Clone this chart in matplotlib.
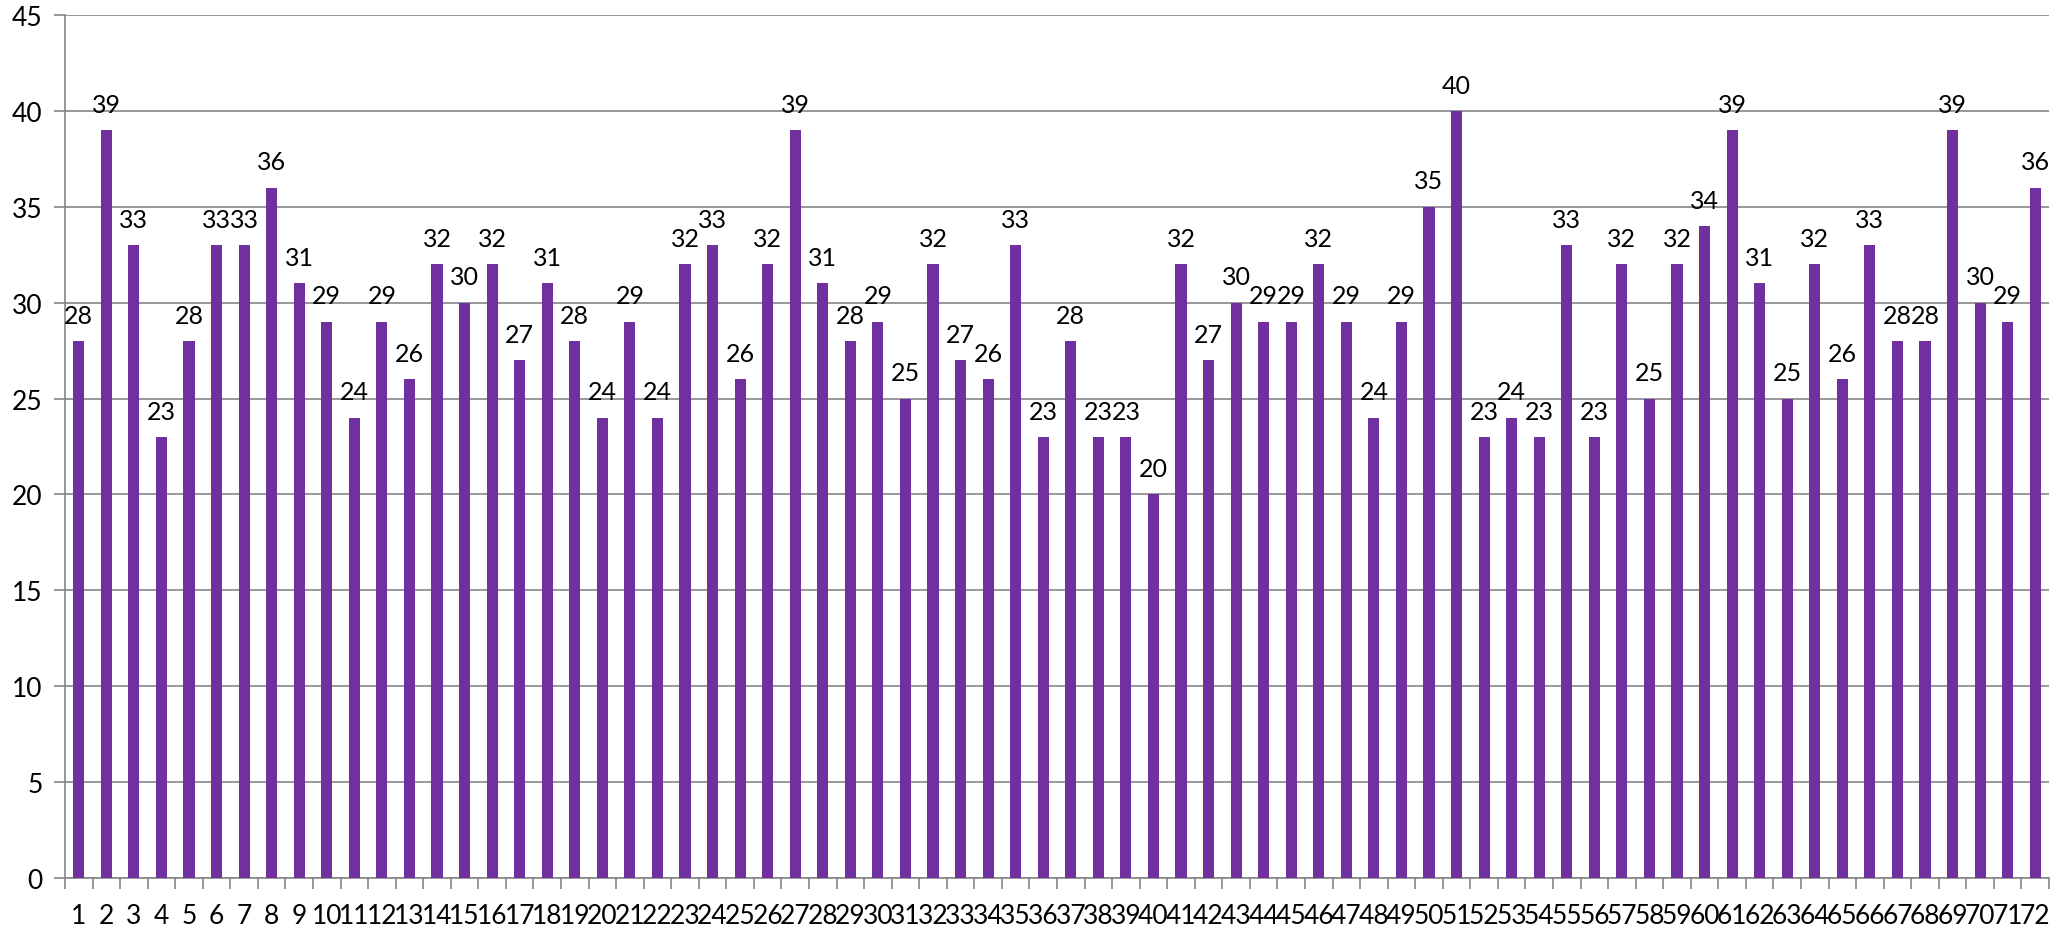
import matplotlib
matplotlib.use("Agg")
import matplotlib.pyplot as plt
import numpy as np

categories = [str(i) for i in range(1, 73)]
values = [28, 39, 33, 23, 28, 33, 33, 36, 31, 29, 24, 29, 26, 32, 30, 32, 27, 31,
          28, 24, 29, 24, 32, 33, 26, 32, 39, 31, 28, 29, 25, 32, 27, 26, 33, 23,
          28, 23, 23, 20, 32, 27, 30, 29, 29, 32, 29, 24, 29, 35, 40, 23, 24, 23,
          33, 23, 32, 25, 32, 34, 39, 31, 25, 32, 26, 33, 28, 28, 39, 30, 29, 36]
y_ticks = list(range(0, 50, 5))

plt.rcParams['font.family'] = ['Lato', 'DejaVu Sans']
fig = plt.figure(figsize=(20.72, 9.28), dpi=100)
ax = fig.add_axes([65/2072, 1-879/928, (2049-65)/2072, (879-16)/928])

x = np.arange(len(values))
ax.bar(x, values, width=0.4, color='#7030A0', zorder=3)
for xi, v in zip(x, values):
    ax.text(xi, v + 0.75, str(v), ha='center', va='bottom', fontsize=18, color='black')

ax.set_xlim(-0.5, len(values) - 0.5)
ax.set_ylim(0, 45)
ax.set_yticks(y_ticks)
ax.set_yticklabels([str(t) for t in y_ticks], fontsize=19)
ax.yaxis.grid(True, color='#868686', linewidth=1.2, zorder=0)
ax.set_xticks(x)
ax.set_xticklabels(categories, fontsize=19)
ax.tick_params(axis='x', length=0, pad=18)
ax.set_xticks(np.arange(-0.5, len(values)), minor=True)
ax.tick_params(axis='x', which='minor', length=8, color='#868686', width=1.2)
ax.tick_params(axis='y', length=8, color='#868686', width=1.2, pad=8)
for s in ['top', 'right']:
    ax.spines[s].set_visible(False)
ax.spines['left'].set_color('#868686')
ax.spines['left'].set_linewidth(1.2)
ax.spines['bottom'].set_color('#868686')
ax.spines['bottom'].set_linewidth(1.2)

fig.savefig('out.png', dpi=100)
